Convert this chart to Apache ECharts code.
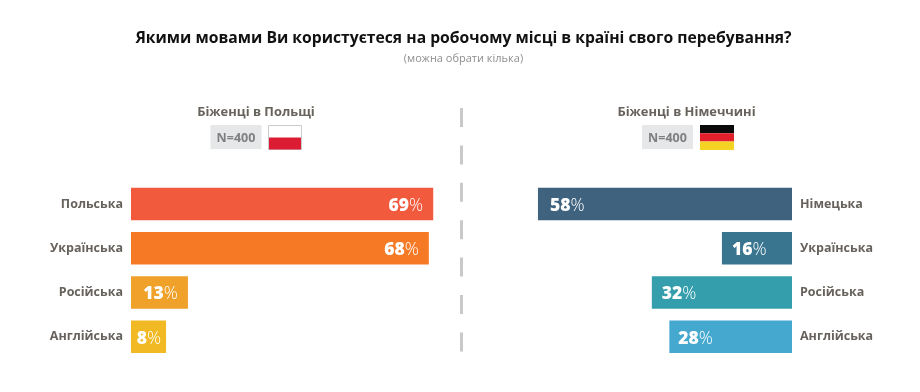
<!DOCTYPE html>
<html><head><meta charset="utf-8">
<script src="https://cdn.jsdelivr.net/npm/echarts@6/dist/echarts.min.js"></script>
<style>html,body{margin:0;padding:0;background:#fff}#c{width:920px;height:392px}</style>
</head><body><div id="c"></div>
<script>
const titleText = 'Якими мовами Ви користуєтеся на робочому місці в країні свого перебування?';
const subtitleText = '(можна обрати кілька)';
const panelNames = ['Біженці в Польщі', 'Біженці в Німеччині'];
const sampleLabel = 'N=400';
const polandCategories = ['Польська', 'Українська', 'Російська', 'Англійська'];
const polandValues = [69, 68, 13, 8];
const polandColors = ['#F15A3D', '#F67A26', '#EFA12A', '#F1BA24'];
const germanyCategories = ['Німецька', 'Українська', 'Російська', 'Англійська'];
const germanyValues = [58, 16, 32, 28];
const germanyColors = ['#3F627E', '#3A7590', '#349EAC', '#44A8CF'];

const FONT = '"Open Sans", sans-serif';
const GREY = '#67625C';
const AX_MAX = 100;
const chart = echarts.init(document.getElementById('c'), null, {renderer: 'canvas'});

function series(values, colors, gridIdx, position, distances) {
  return {
    type: 'bar', xAxisIndex: gridIdx, yAxisIndex: gridIdx, barWidth: 32.5, silent: true,
    data: values.map((v, i) => ({
      value: v,
      itemStyle: {color: colors[i]},
      label: {distance: distances[i]}
    })),
    label: {
      show: true, position, offset: [0, 2],
      formatter: p => `{v|${p.value}}{p|%}`,
      rich: {
        v: {fontFamily: FONT, fontWeight: 800, fontSize: 17.5, color: '#fff'},
        p: {fontFamily: FONT, fontWeight: 300, fontSize: 17.5, color: '#fff'}
      }
    }
  };
}
function xAxis(gridIndex, inverse) {
  return {type: 'value', gridIndex, min: 0, max: AX_MAX, inverse, show: false};
}
function yAxis(gridIndex, cats, pos) {
  return {
    type: 'category', gridIndex, data: cats, inverse: true, position: pos,
    axisLine: {show: false}, axisTick: {show: false},
    axisLabel: {margin: 8, padding: [4, 0, 0, 0], fontFamily: FONT, fontWeight: 700, fontSize: 12.5, color: GREY}
  };
}
function flagBand(x, y, w, h, fill) {
  return {type: 'rect', shape: {x, y, width: w, height: h}, style: {fill}, silent: true};
}
function nBox(x) {
  return [
    {type: 'rect', shape: {x, y: 125, width: 51, height: 24}, style: {fill: '#E6E7E8'}, silent: true},
    {type: 'text', x: x + 25.5, y: 138, silent: true, style: {
      text: sampleLabel, align: 'center', verticalAlign: 'middle',
      fontFamily: FONT, fontWeight: 700, fontSize: 12.5, fill: '#7D7F82'}}
  ];
}

chart.setOption({
  animation: false,
  backgroundColor: '#fff',
  title: [
    {text: titleText, left: 458.5, top: 26, textAlign: 'center',
     textStyle: {fontFamily: FONT, fontWeight: 700, fontSize: 15.7, color: '#111'}},
    {text: subtitleText, left: 458.5, top: 48, textAlign: 'center',
     textStyle: {fontFamily: FONT, fontWeight: 400, fontSize: 11, color: '#8E8E8E'}},
    {text: panelNames[0], left: 251, top: 101, textAlign: 'center',
     textStyle: {fontFamily: FONT, fontWeight: 700, fontSize: 12.9, color: GREY}},
    {text: panelNames[1], left: 681.5, top: 101, textAlign: 'center',
     textStyle: {fontFamily: FONT, fontWeight: 700, fontSize: 12.9, color: GREY}}
  ],
  grid: [
    {left: 131, top: 182, width: 438, height: 176.8},
    {left: 354, top: 182, width: 438, height: 176.8}
  ],
  xAxis: [xAxis(0, false), xAxis(1, true)],
  yAxis: [yAxis(0, polandCategories, 'left'), yAxis(1, germanyCategories, 'right')],
  series: [
    series(polandValues, polandColors, 0, 'insideRight', [10, 10, 10, 5]),
    series(germanyValues, germanyColors, 1, 'insideLeft', [12, 10, 10, 9])
  ],
  graphic: [
    ...nBox(210.5),
    ...nBox(642),
    {type: 'rect', shape: {x: 268.5, y: 125.5, width: 33, height: 24},
     style: {fill: '#fff', stroke: '#C9CBCE', lineWidth: 1}, silent: true},
    flagBand(269, 137.5, 32, 12, '#DC1C33'),
    flagBand(700, 125, 34, 8.3, '#0A0A0A'),
    flagBand(700, 133.3, 34, 8.3, '#E1202B'),
    flagBand(700, 141.6, 34, 8.4, '#F4D325'),
    {type: 'line', shape: {x1: 461.5, y1: 108, x2: 461.5, y2: 353}, silent: true,
     style: {stroke: '#C8C9CB', lineWidth: 3, lineDash: [19, 18.4]}}
  ]
});
</script></body></html>
